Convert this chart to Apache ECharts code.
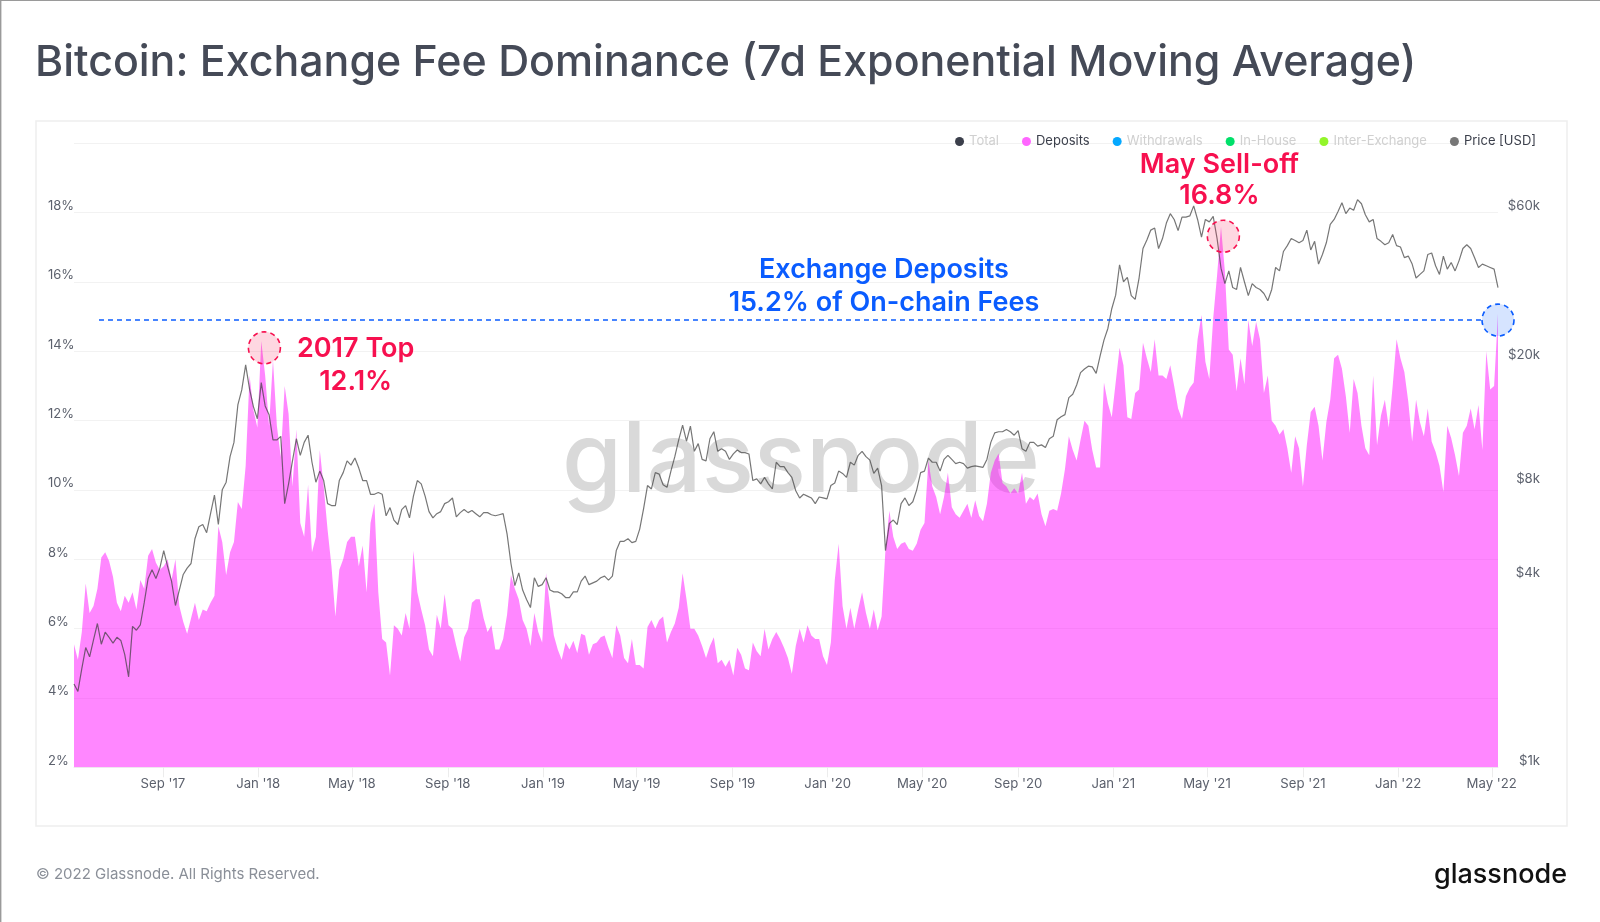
<!DOCTYPE html>
<html>
<head>
<meta charset="utf-8">
<title>Bitcoin: Exchange Fee Dominance</title>
<script src="https://cdn.jsdelivr.net/npm/echarts@6/dist/echarts.min.js"></script>
<style>
  html, body { margin: 0; padding: 0; background: #fff; }
  #main { width: 1600px; height: 922px; }
</style>
</head>
<body>
<div id="main"></div>
<script>
// one reading every 5 days, starting here
var firstDate = '2017-05-10';
var stepDays = 5;

// Deposits, % of on-chain fees
var depositValues = [
  5.55,5.1,5.9,7.3,6.45,6.65,7.15,8.05,8.2,7.95,
  7.5,6.75,6.5,6.95,6.75,7.05,6.55,7.4,7.15,8.1,
  8.3,7.9,7.7,7.8,8.0,7.4,8.0,6.65,6.2,5.85,
  6.3,6.75,6.25,6.55,6.5,6.75,6.95,8.95,8.5,7.55,
  8.2,8.5,9.65,9.45,10.7,13.3,12.3,11.8,14.3,13.3,
  11.85,13.75,11.85,10.95,13.0,12.2,10.1,11.75,9.05,8.65,
  10.15,8.2,8.65,11.15,10.1,8.85,7.8,6.35,7.7,8.0,
  8.5,8.65,8.65,7.8,8.4,7.05,9.05,9.6,7.05,5.7,
  5.6,4.65,6.1,6.0,5.8,6.45,6.0,8.25,7.05,6.55,
  6.1,5.4,5.2,6.4,6.0,7.0,6.1,6.0,5.5,5.05,
  5.75,6.0,6.75,6.85,6.85,6.3,5.9,6.1,5.4,5.4,
  5.7,6.4,7.55,7.15,6.85,6.25,6.0,5.5,6.45,5.9,
  5.6,7.6,6.65,5.8,5.4,5.1,5.6,5.4,5.65,5.3,
  5.85,5.8,5.25,5.55,5.6,5.75,5.8,5.45,5.15,6.1,
  5.8,5.15,5.0,5.7,4.95,4.95,4.85,6.05,6.25,6.0,
  6.25,6.35,5.6,5.9,6.15,6.6,7.6,6.85,6.0,6.0,
  5.8,5.5,5.15,5.5,5.75,5.0,5.1,4.9,5.1,4.65,
  5.45,5.25,4.85,4.8,5.6,5.35,5.2,6.0,5.4,5.7,
  5.9,5.7,5.45,5.15,4.7,5.5,6.0,5.6,6.1,5.8,
  5.7,5.7,5.2,4.95,5.6,7.4,8.45,6.65,6.0,6.6,
  6.0,6.55,7.05,6.45,6.0,6.55,5.95,6.35,8.3,9.4,
  8.65,8.3,8.45,8.5,8.3,8.25,8.45,8.85,9.05,10.85,
  10.1,9.8,9.3,9.8,10.5,9.5,9.3,9.2,9.4,9.6,
  9.2,9.7,9.25,9.1,9.6,10.5,10.85,11.05,10.2,10.1,
  9.9,10.05,9.9,10.5,9.6,9.8,9.7,9.9,9.3,8.95,
  9.4,9.45,9.4,9.9,10.6,11.55,11.15,10.85,11.45,12.0,
  11.85,11.15,10.65,10.65,13.1,12.5,12.1,13.1,14.1,13.6,
  12.1,12.05,12.8,12.9,14.25,13.8,13.4,14.35,13.3,13.3,
  13.2,13.6,13.0,12.35,12.05,12.7,12.95,13.1,14.35,15.05,
  13.7,13.2,14.95,16.2,17.6,16.3,14.05,13.9,12.85,13.8,
  13.05,14.9,14.15,14.85,14.35,12.8,13.3,12.0,11.85,11.6,
  11.75,11.2,10.5,11.55,11.2,10.1,11.3,12.25,12.4,11.85,
  10.85,11.95,12.6,13.8,13.9,13.5,12.7,11.65,13.2,12.8,
  11.85,11.2,11.0,13.3,11.3,12.15,12.6,11.8,13.0,14.35,
  13.8,13.4,12.55,11.4,12.6,11.95,11.55,12.35,11.4,11.1,
  10.7,9.95,11.85,11.5,11.0,10.4,11.65,11.85,12.35,11.75,
  12.45,11.15,14.0,12.9,13.0,15.1
];

// Price [USD]
var priceValues = [
  1850,1750,2070,2420,2260,2560,2890,2480,2710,2610,
  2500,2610,2550,2300,1950,2830,2750,2860,3370,4030,
  4300,4030,4350,4950,4400,3950,3300,3700,4150,4350,
  4500,5400,5900,6000,5650,6500,7450,6000,7750,8200,
  9900,11000,14500,16200,19500,16300,14300,13100,17100,14400,
  13500,11200,11200,11500,7000,8100,9600,11300,10000,11000,
  11600,9500,8200,8900,8300,7000,6900,6900,8300,8800,
  9600,9300,9800,9100,8300,8300,7500,7500,7600,7500,
  6400,6800,6200,6000,6700,6900,6300,7400,8300,8100,
  7400,6600,6300,6500,6600,7000,7100,7300,6350,6550,
  6700,6550,6650,6500,6350,6550,6550,6450,6400,6450,
  6500,5600,4500,3820,4200,3700,3450,3250,4050,3800,
  3850,4050,3700,3650,3650,3600,3500,3500,3650,3650,
  3950,4100,3850,3900,3950,4050,4100,3980,4100,4950,
  5300,5300,5400,5250,5300,5800,6750,8000,7800,8800,
  8700,8050,7900,8900,9900,11200,12500,11100,12400,10300,
  10900,9700,9600,11300,11900,10300,10500,10300,9700,10100,
  10400,10200,10200,10100,8300,8400,8100,8500,8100,7800,
  9500,9200,9200,8800,8500,7700,7300,7500,7400,7300,
  7000,7350,7300,7250,8000,8150,8900,8750,8500,9500,
  9300,10000,10300,9900,9650,8750,9100,8000,4950,6050,
  6200,6000,7000,7300,6900,7100,7750,8800,8900,9800,
  9500,9500,8900,9700,10000,9700,9400,9500,9400,9100,
  9200,9250,9200,9150,9700,11000,11800,11900,11900,12100,
  11900,11600,12000,10500,10300,11000,11000,10700,10800,10600,
  11300,11500,13000,13300,13500,15300,15700,16800,18400,18900,
  19300,19200,18300,20800,23400,25500,29500,32600,40800,36000,
  37200,32500,31600,37000,46000,49000,52700,53500,46000,49500,
  55500,59500,57000,52500,58000,58000,58500,63000,57000,50000,
  57000,56000,58300,49500,39800,35500,39000,34500,34000,40000,
  36000,32500,35500,34500,34000,33000,31300,34000,40000,39000,
  45000,47000,49500,48800,48000,48800,52700,45500,48500,41000,
  44000,48000,55000,57000,60500,64500,59500,62000,61000,66000,
  64000,59000,56000,57000,49500,48500,47300,48000,51000,47000,
  46500,43000,43500,41000,37000,38000,39000,44000,44500,40500,
  38000,43500,39500,41500,39000,42000,46000,47300,46000,43000,
  40000,41000,40500,40000,39500,34500
];

var xTickDates = ['2017-09-01','2018-01-01','2018-05-01','2018-09-01','2019-01-01','2019-05-01','2019-09-01','2020-01-01','2020-05-01','2020-09-01','2021-01-01','2021-05-01','2021-09-01','2022-01-01','2022-05-01'];
var xTickLabels = ["Sep '17","Jan '18","May '18","Sep '18","Jan '19","May '19","Sep '19","Jan '20","May '20","Sep '20","Jan '21","May '21","Sep '21","Jan '22","May '22"];
var priceTicks = [1000,4000,8000,20000,60000];
var priceTickLabels = ['$1k','$4k','$8k','$20k','$60k'];

var legendNames = ['Total','Deposits','Withdrawals','In-House','Inter-Exchange','Price [USD]'];
var legendColors = ['#3b3f4b','#ff66ff','#05a8ff','#00e06a','#93f52a','#777777'];
var legendActive = ['Deposits','Price [USD]'];

var RED = '#f7104f';
var BLUE = '#0a5cff';
var FONT = 'Inter';

function ts(d) { return new Date(d + 'T00:00:00Z').getTime(); }
var DAY = 86400000;
var xTickValues = xTickDates.map(ts);

function toSeries(values) {
  var out = [];
  for (var i = 0; i < values.length; i++) {
    out.push([ts(firstDate) + i * stepDays * DAY, values[i]]);
  }
  return out;
}

function circleMark(date, value, color, fill) {
  return {
    coord: [ts(date), value],
    symbol: 'circle',
    symbolSize: 32,
    itemStyle: { color: fill, borderColor: color, borderWidth: 1.6, borderType: [5, 4] },
    label: { show: false }
  };
}
function textMark(date, value, text, color) {
  return {
    coord: [ts(date), value],
    symbol: 'circle',
    symbolSize: 1,
    itemStyle: { color: 'transparent' },
    label: {
      show: true, position: 'inside', formatter: text, color: color,
      fontFamily: FONT, fontSize: 27, fontWeight: 600
    }
  };
}

var chart = echarts.init(document.getElementById('main'), null, { renderer: 'canvas' });

var series = [
  {
    name: 'Deposits',
    type: 'line',
    data: toSeries(depositValues),
    showSymbol: false,
    sampling: false,
    lineStyle: { width: 0 },
    areaStyle: { color: '#ff00ff', opacity: 0.47 },
    itemStyle: { color: '#ff66ff' },
    z: 2
  },
  {
    name: 'Price [USD]',
    type: 'line',
    yAxisIndex: 1,
    data: toSeries(priceValues),
    showSymbol: false,
    lineStyle: { width: 1.2, color: 'rgba(60,60,60,0.7)' },
    itemStyle: { color: '#777777' },
    z: 3
  }
];
// empty ones, they only fill the legend
['Total', 'Withdrawals', 'In-House', 'Inter-Exchange'].forEach(function (n) {
  series.push({ name: n, type: 'line', data: [], itemStyle: { color: legendColors[legendNames.indexOf(n)] } });
});
// annotations sit on top of both lines
series.push({
  name: 'annotations',
  type: 'line',
  data: [],
  z: 10,
  silent: true,
  markLine: {
    silent: true,
    symbol: 'none',
    label: { show: false },
    lineStyle: { color: BLUE, width: 1.6, type: [5, 4] },
    data: [[{ coord: [ts('2017-06-11'), 14.9] }, { coord: [ts('2022-04-20'), 14.9] }]]
  },
  markPoint: {
    silent: true,
    data: [
      circleMark('2018-01-09', 14.1, RED, 'rgba(247,16,79,0.17)'),
      circleMark('2021-05-22', 17.32, RED, 'rgba(247,16,79,0.17)'),
      circleMark('2022-05-09', 14.9, BLUE, 'rgba(10,92,255,0.17)'),
      textMark('2018-05-06', 14.07, '2017 Top', RED),
      textMark('2018-05-06', 13.13, '12.1%', RED),
      textMark('2021-05-17', 19.39, 'May Sell-off', RED),
      textMark('2021-05-17', 18.47, '16.8%', RED),
      textMark('2020-03-13', 16.34, 'Exchange Deposits', BLUE),
      textMark('2020-03-13', 15.4, '15.2% of On-chain Fees', BLUE)
    ]
  }
});

chart.setOption({
  animation: false,
  textStyle: { fontFamily: FONT },
  title: {
    text: 'Bitcoin: Exchange Fee Dominance (7d Exponential Moving Average)',
    left: 35,
    top: 42,
    padding: 0,
    textStyle: { fontFamily: FONT, fontSize: 42.9, fontWeight: 500, color: '#454a57' }
  },
  legend: {
    right: 64,
    top: 135,
    padding: 0,
    itemWidth: 9,
    itemHeight: 9,
    itemGap: 23,
    selectedMode: false,
    icon: 'circle',
    data: legendNames.map(function (n, i) {
      return {
        name: n,
        itemStyle: { color: legendColors[i] },
        textStyle: { color: legendActive.indexOf(n) >= 0 ? '#3b3f4b' : '#d0d0d0' }
      };
    }),
    textStyle: { fontFamily: FONT, fontSize: 13 }
  },
  grid: { left: 74, right: 102, top: 143.3, bottom: 154.7, containLabel: false },
  // timestamps on a value axis, so the month ticks can be given by hand
  xAxis: {
    type: 'value',
    min: ts(firstDate),
    max: ts(firstDate) + (depositValues.length - 1) * stepDays * DAY,
    splitLine: { show: false },
    axisLine: { lineStyle: { color: '#eeeeee' } },
    axisTick: { show: true, length: 10, lineStyle: { color: '#ececec' }, customValues: xTickValues },
    axisLabel: {
      color: '#5c616d',
      fontFamily: FONT,
      fontSize: 13.2,
      margin: 10,
      hideOverlap: false,
      customValues: xTickValues,
      formatter: function (v) { return xTickLabels[xTickValues.indexOf(v)] || ''; }
    }
  },
  yAxis: [
    {
      type: 'value',
      min: 2,
      max: 20,
      interval: 2,
      axisLine: { show: false },
      axisTick: { show: false },
      splitLine: { show: true, lineStyle: { color: '#f2f2f2', width: 1 } },
      axisLabel: {
        color: '#5c616d',
        fontFamily: FONT,
        fontSize: 13,
        align: 'left',
        verticalAlign: 'bottom',
        margin: 26,
        formatter: function (v) { return v === 20 ? '' : v + '%'; }
      }
    },
    {
      type: 'log',
      logBase: 10,
      min: 1000,
      max: 100000,
      position: 'right',
      axisLine: { show: false },
      axisTick: { show: false },
      splitLine: { show: false },
      axisLabel: {
        color: '#5c616d',
        fontFamily: FONT,
        fontSize: 13.2,
        align: 'right',
        verticalAlign: 'bottom',
        margin: 42,
        customValues: priceTicks,
        formatter: function (v) { return priceTickLabels[priceTicks.indexOf(Math.round(v))] || ''; }
      }
    }
  ],
  graphic: [
    // page edge
    { type: 'rect', z: 0, shape: { x: 0, y: 0, width: 1.4, height: 922 }, style: { fill: '#9a9a9a' } },
    { type: 'rect', z: 0, shape: { x: 0, y: 0, width: 1600, height: 1 }, style: { fill: '#9a9a9a' } },
    // card
    { type: 'rect', z: 0, shape: { x: 36, y: 121, width: 1531, height: 705 }, style: { fill: 'none', stroke: '#eeeeee', lineWidth: 1.5 } },
    // watermark
    { type: 'text', z: 1, x: 801, y: 511, style: { text: 'glassnode', fill: '#d9d9d9', font: '500 97px ' + FONT, textAlign: 'center', textVerticalAlign: 'bottom' } },
    // footer
    { type: 'text', z: 5, x: 36, y: 874.5, style: { text: '© 2022 Glassnode. All Rights Reserved.', fill: '#8a8f98', font: '400 15px ' + FONT, textAlign: 'left', textVerticalAlign: 'middle' } },
    { type: 'text', z: 5, x: 1567, y: 875, style: { text: 'glassnode', fill: '#111111', font: '500 27px ' + FONT, textAlign: 'right', textVerticalAlign: 'middle' } }
  ],
  series: series
});
</script>
</body>
</html>
